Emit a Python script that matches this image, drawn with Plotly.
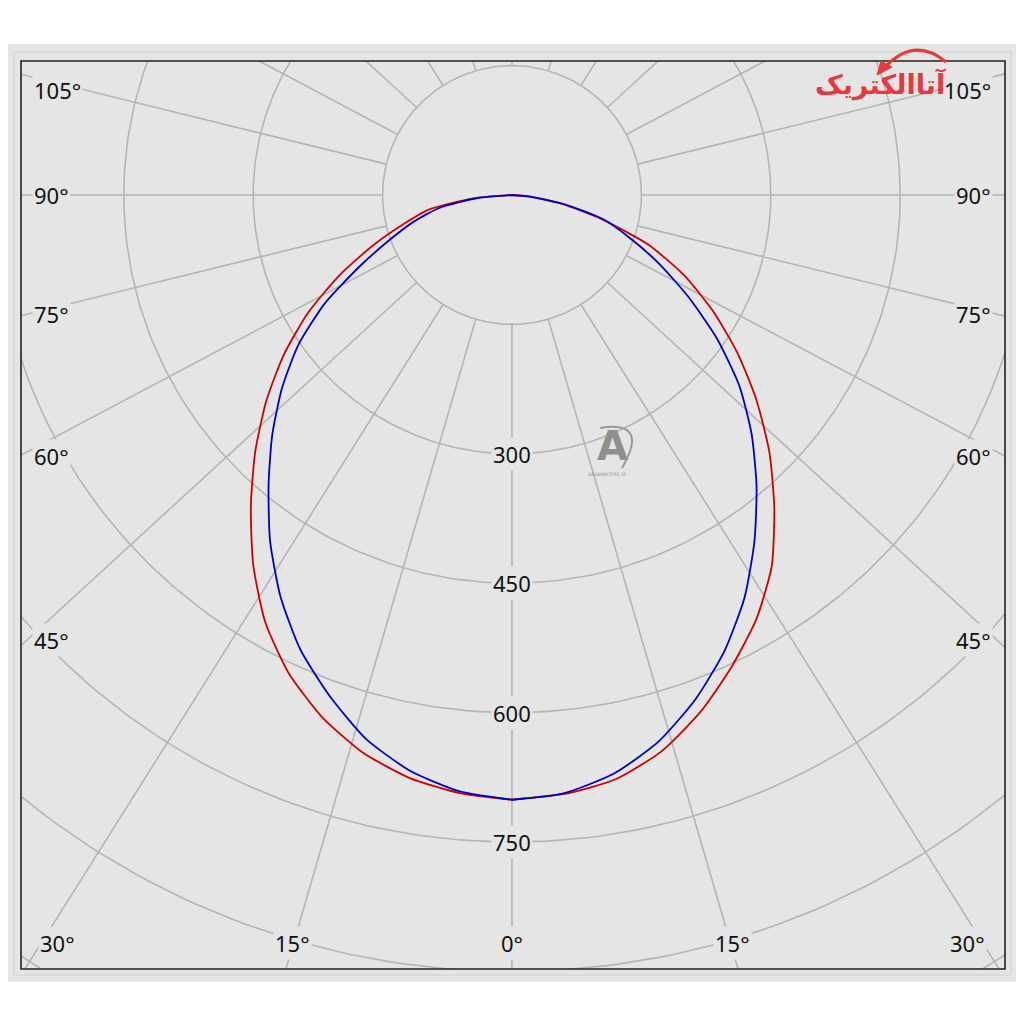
import math
import plotly.graph_objects as go

# ---------------- data (luminous intensity, cd) ----------------
gamma = [0, 5, 10, 15, 20, 25, 30, 35, 40, 45, 50, 55, 60, 65, 70, 75, 80, 85, 90, 180]
c0_red_right = [701, 697, 688, 668, 638, 603, 567, 525, 473, 422, 370, 319, 269, 220, 168, 107, 58, 22, 0, 0]
c180_red_left = [701, 696, 686, 669, 644, 612, 572, 523, 471, 421, 372, 323, 273, 221, 172, 130, 98, 45, 0, 0]
c90_blue_right = [701, 696, 681, 656, 622, 583, 539, 490, 441, 393, 344, 290, 236, 188, 145, 110, 62, 18, 0, 0]
c270_blue_left = [701, 694, 678, 653, 618, 581, 537, 489, 439, 393, 348, 302, 250, 194, 150, 117, 85, 40, 0, 0]

radial_circles = [150, 300, 450, 600, 750, 900, 1050, 1200]
radial_tick_labels = ["300", "450", "600", "750"]
radial_tick_values = [300, 450, 600, 750]
angle_tick_labels = ["0°", "15°", "30°", "45°", "60°", "75°", "90°", "105°"]
angle_spokes = list(range(0, 360, 15))

# ---------------- geometry / style ----------------
OFF = 8                  # page body margin of the html page
K = 647 / 750.0          # px per cd
CX, CY = 512, 195        # page-pixel position of the pole
PL, PR, PT, PB = 21, 1005, 61, 969
BG = "#e5e5e5"
GRID = "#b5b5b5"
SPOKE_STRETCH = 1.09


def dx(px):
    return (px - CX) / K


def dy(py):
    return (CY - py) / K


def paper_x(px):
    return (px - PL) / (PR - PL)


def paper_y(py):
    return (PB - py) / (PB - PT)


fig = go.Figure()

# grid circles
gx, gy = [], []
for r in radial_circles:
    for i in range(361):
        t = math.radians(i)
        gx.append(r * math.cos(t))
        gy.append(r * math.sin(t))
    gx.append(None)
    gy.append(None)
fig.add_trace(go.Scatter(x=gx, y=gy, mode="lines", line=dict(color=GRID, width=1.6),
                         hoverinfo="skip", showlegend=False))

# spokes (start on the inner 150 circle)
sx, sy = [], []
for a in angle_spokes:
    t = math.radians(a)
    ux, uy = SPOKE_STRETCH * math.sin(t), -math.cos(t)
    n = math.hypot(ux, uy)
    ux, uy = ux / n, uy / n
    sx += [radial_circles[0] * ux, 2000 * ux, None]
    sy += [radial_circles[0] * uy, 2000 * uy, None]
fig.add_trace(go.Scatter(x=sx, y=sy, mode="lines", line=dict(color=GRID, width=1.6),
                         hoverinfo="skip", showlegend=False))


def curve(left, right):
    xs, ys = [], []
    for g, r in reversed(list(zip(gamma, left))):
        t = math.radians(g)
        xs.append(-r * math.sin(t))
        ys.append(-r * math.cos(t))
    for g, r in zip(gamma, right):
        t = math.radians(g)
        xs.append(r * math.sin(t))
        ys.append(-r * math.cos(t))
    return xs, ys


rx, ry = curve(c180_red_left, c0_red_right)
bx, by = curve(c270_blue_left, c90_blue_right)
fig.add_trace(go.Scatter(x=rx, y=ry, mode="lines",
                         line=dict(color="#d00000", width=1.8, shape="spline", smoothing=0.6),
                         name="C0-C180", showlegend=False))
fig.add_trace(go.Scatter(x=bx, y=by, mode="lines",
                         line=dict(color="#0000c8", width=1.8, shape="spline", smoothing=0.6),
                         name="C90-C270", showlegend=False))

annotations = []
FONT = dict(family="Noto Sans, DejaVu Sans, sans-serif", size=22, color="#111111")

# radial labels
for lab, v in zip(radial_tick_labels, radial_tick_values):
    annotations.append(dict(x=0, y=-v, xref="x", yref="y", text=lab, showarrow=False,
                            xanchor="center", yanchor="middle",
                            font=FONT, bgcolor=BG, borderpad=1))

# angle labels (page-pixel positions of the original layout)
left_pos = {"0°": (512, 943), "15°": (292, 943), "30°": (57, 943), "45°": (51, 640),
            "60°": (51, 456), "75°": (51, 314), "90°": (51, 195), "105°": (57, 90)}
for lab in angle_tick_labels:
    px, py = left_pos[lab]
    annotations.append(dict(x=dx(px), y=dy(py), xref="x", yref="y", text=lab, showarrow=False,
                            xanchor="center", yanchor="middle",
                            font=FONT, bgcolor=BG, borderpad=1))
    if lab != "0°":
        annotations.append(dict(x=dx(1024 - px), y=dy(py), xref="x", yref="y", text=lab,
                                showarrow=False, xanchor="center", yanchor="middle",
                                font=FONT, bgcolor=BG, borderpad=1))

# logo (top right) and watermark
annotations.append(dict(x=paper_x(880), y=paper_y(85), xref="paper", yref="paper",
                        text="<b>آتاالکتریک</b>", showarrow=False,
                        xanchor="center", yanchor="middle",
                        font=dict(family="DejaVu Sans", size=27, color="#e8383e")))
annotations.append(dict(x=dx(612), y=dy(446), xref="x", yref="y", text="<b>A</b>", showarrow=False,
                        xanchor="center", yanchor="middle",
                        font=dict(family="DejaVu Sans", size=40, color="#8f8f8f")))
annotations.append(dict(x=dx(607), y=dy(473), xref="x", yref="y", text="ataelectric.ir", showarrow=False,
                        xanchor="center", yanchor="middle",
                        font=dict(family="DejaVu Sans", size=6, color="#9a9a9a")))

shapes = [
    dict(type="rect", xref="paper", yref="paper", x0=paper_x(0), x1=paper_x(1040),
         y0=paper_y(982), y1=paper_y(44), fillcolor=BG, line=dict(width=0), layer="below"),
    dict(type="rect", xref="paper", yref="paper", x0=paper_x(14), x1=paper_x(1011),
         y0=paper_y(975), y1=paper_y(52), line=dict(color="#d0d0d0", width=1), layer="below"),
    dict(type="rect", xref="paper", yref="paper", x0=0, x1=1, y0=0, y1=1,
         line=dict(color="#222222", width=1.6)),
    dict(type="path", xref="paper", yref="paper",
         path="M %f %f Q %f %f %f %f" % (paper_x(885), paper_y(67), paper_x(915), paper_y(36),
                                          paper_x(946), paper_y(62)),
         line=dict(color="#e8383e", width=3)),
    dict(type="path", xref="paper", yref="paper",
         path="M %f %f L %f %f L %f %f Z" % (paper_x(877), paper_y(75), paper_x(881), paper_y(61),
                                              paper_x(892), paper_y(67)),
         fillcolor="#e8383e", line=dict(color="#e8383e", width=1)),
    dict(type="path", xref="x", yref="y",
         path="M %f %f Q %f %f %f %f" % (dx(600), dy(428), dx(650), dy(420), dx(622), dy(468)),
         line=dict(color="#9a9a9a", width=2)),
]

fig.update_layout(
    width=1024, height=1024, autosize=False,
    margin=dict(l=PL - OFF, r=1024 - (PR - OFF), t=PT - OFF, b=1024 - (PB - OFF)),
    paper_bgcolor="white", plot_bgcolor=BG,
    xaxis=dict(range=[dx(PL), dx(PR)], visible=False, fixedrange=True),
    yaxis=dict(range=[dy(PB), dy(PT)], visible=False, fixedrange=True),
    annotations=annotations, shapes=shapes, showlegend=False,
)

fig.write_html("out.html")
